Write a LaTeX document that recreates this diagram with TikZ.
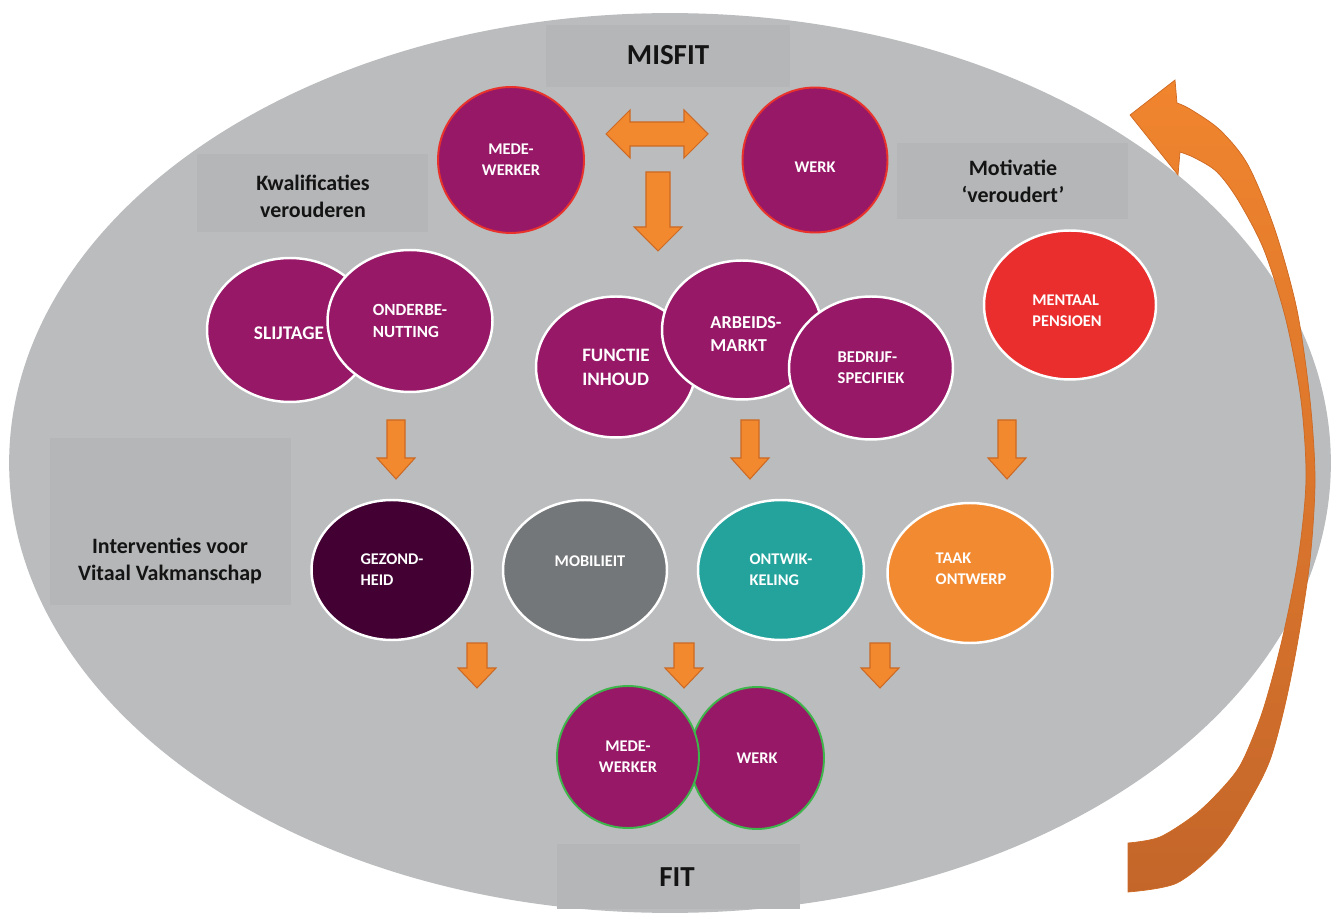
\documentclass[tikz,border=0pt]{standalone}
\usepackage{fontspec}
\setmainfont{Carlito}
\usetikzlibrary{shapes.geometric}
\definecolor{ellgray}{RGB}{186,188,189}
\definecolor{boxgray}{RGB}{180,182,183}
\definecolor{purp}{RGB}{150,24,102}
\definecolor{darkpurp}{RGB}{66,0,51}
\definecolor{midgray}{RGB}{116,119,121}
\definecolor{teal2}{RGB}{35,163,156}
\definecolor{orangec}{RGB}{242,138,50}
\definecolor{redc}{RGB}{234,45,45}
\definecolor{misred}{RGB}{232,50,43}
\definecolor{fitgreen}{RGB}{61,181,74}
\definecolor{arrfill}{RGB}{242,137,47}
\definecolor{arrline}{RGB}{205,105,35}
\definecolor{arrtop}{RGB}{241,133,46}
\definecolor{arrbot}{RGB}{196,102,42}
\definecolor{txt}{RGB}{20,20,20}
\newcommand{\myDownArrow}[6]{%
  \draw[barrow] ({#1-#4},#2) -- ({#1+#4},#2) -- ({#1+#4},{#3-#6}) -- ({#1+#5},{#3-#6})
    -- (#1,#3) -- ({#1-#5},{#3-#6}) -- ({#1-#4},{#3-#6}) -- cycle;}
\tikzset{
  blob/.style={ellipse, inner sep=0pt, text=white, align=left,
    font=\bfseries\fontsize{9.3}{12}\selectfont, draw=white, line width=1.4pt},
  ctext/.style={inner sep=0pt, text=white, align=left,
    font=\bfseries\fontsize{9.3}{12}\selectfont},
  lbox/.style={rectangle, fill=boxgray, inner sep=0pt},
  ltext/.style={font=\bfseries\fontsize{12.5}{15.3}\selectfont, text=txt, align=center},
  btext/.style={font=\bfseries\fontsize{16.5}{18}\selectfont, text=txt},
  barrow/.style={fill=arrfill, draw=arrline, line width=0.6pt, line join=miter},
}
\begin{document}
\begin{tikzpicture}[x=0.02cm, y=-0.02cm]
\useasboundingbox (0,0) rectangle (1333,915);
\begin{scope}
\clip (0,0) rectangle (1333,915);
\fill[ellgray] (670,463) ellipse [x radius=13.22cm, y radius=9cm];
\end{scope}

% grey label boxes
\node[lbox, minimum width=4.88cm, minimum height=1.24cm] (misfitbox) at (668,56) {};
\node[btext] (misfit) at (668,55) {MISFIT};
\node[lbox, minimum width=4.62cm, minimum height=1.56cm] (kwalbox) at (312.5,193) {};
\node[ltext] (kwal) at (313,196) {Kwalificaties\\verouderen};
\node[lbox, minimum width=4.62cm, minimum height=1.52cm] (motbox) at (1012.5,181) {};
\node[ltext] (mot) at (1013,181) {Motivatie\\‘veroudert’};
\node[lbox, minimum width=4.82cm, minimum height=3.34cm] (intbox) at (170.5,521.5) {};
\node[ltext] (int) at (170,561) {Interventies voor\\Vitaal Vakmanschap};
\node[lbox, minimum width=4.86cm, minimum height=1.3cm] (fitbox) at (678.5,876.5) {};
\node[btext] (fit) at (677,877) {FIT};

% top circles (misfit)
\node[blob, fill=purp, draw=misred, line width=1.1pt, align=center,
  minimum width=2.92cm, minimum height=2.92cm] (mw1) at (511,160) {MEDE-\\WERKER};
\node[blob, fill=purp, draw=misred, line width=1.1pt,
  minimum width=2.9cm, minimum height=2.9cm] (w1) at (815,160) {};
\node[ctext] (w1t) at (815,167) {WERK};

% double arrow and down arrow
\draw[barrow] (606,134) -- (630,110) -- (630,122) -- (684,122) -- (684,110) -- (708,134)
  -- (684,158) -- (684,146) -- (630,146) -- (630,158) -- cycle;
\myDownArrow{658}{172}{251}{12}{24}{24}

% second row
\node[blob, fill=purp, minimum width=3.32cm, minimum height=2.88cm] (slij) at (290,330) {};
\node[ctext, font=\bfseries\fontsize{11}{13}\selectfont] (slijt) at (289,333) {SLIJTAGE};
\node[blob, fill=purp, font=\bfseries\fontsize{9.7}{12.5}\selectfont,
  minimum width=3.3cm, minimum height=2.84cm] (onder) at (410,321) {ONDERBE-\\NUTTING};
\node[blob, fill=purp, font=\bfseries\fontsize{10.8}{13.6}\selectfont,
  minimum width=3.2cm, minimum height=2.82cm] (func) at (616,367) {FUNCTIE\\INHOUD};
\node[blob, fill=purp, minimum width=3.2cm, minimum height=2.78cm] (arb) at (742,330) {};
\node[ctext, font=\bfseries\fontsize{10.4}{13.6}\selectfont] (arbt) at (746,334) {ARBEIDS-\\MARKT};
\node[blob, fill=purp, font=\bfseries\fontsize{9.4}{12}\selectfont,
  minimum width=3.28cm, minimum height=2.86cm] (bed) at (871,368) {BEDRIJF-\\SPECIFIEK};
\node[blob, fill=redc, minimum width=3.44cm, minimum height=2.98cm] (ment) at (1070,305) {};
\node[ctext] (mentt) at (1067,311) {MENTAAL\\PENSIOEN};

% arrows row 2 -> row 3
\myDownArrow{396}{420}{479}{9}{19}{21}
\myDownArrow{750}{420}{479}{9}{19}{21}
\myDownArrow{1007}{420}{479}{9}{19}{21}

% third row (interventions)
\node[blob, fill=darkpurp, minimum width=3.22cm, minimum height=2.8cm] (gez) at (392,570) {GEZOND-\\HEID};
\node[blob, fill=midgray, minimum width=3.28cm, minimum height=2.8cm] (mob) at (585,570) {};
\node[ctext] (mobt) at (590,561) {MOBILIEIT};
\node[blob, fill=teal2, minimum width=3.32cm, minimum height=2.8cm] (ontw) at (781,570) {ONTWIK-\\KELING};
\node[blob, fill=orangec, minimum width=3.3cm, minimum height=2.8cm] (taak) at (970,573) {};
\node[ctext] (taakt) at (971,569) {TAAK\\ONTWERP};

% arrows row 3 -> fit
\myDownArrow{477}{643}{688}{10}{19}{20}
\myDownArrow{684}{643}{688}{10}{19}{20}
\myDownArrow{880}{643}{688}{10}{19}{20}

% bottom circles (fit)
\node[blob, fill=purp, draw=fitgreen, line width=1.1pt,
  minimum width=2.68cm, minimum height=2.84cm] (w2) at (757,758) {WERK};
\node[blob, fill=purp, draw=fitgreen, line width=1.1pt, align=center,
  minimum width=2.84cm, minimum height=2.84cm] (mw2) at (628,757) {MEDE-\\WERKER};

% big curved return arrow
\shade[top color=arrtop, bottom color=arrbot, draw=arrline, line width=0.4pt]
  (1130,115) -- (1175,80) -- (1177,103)
  -- plot[smooth] coordinates {(1177,103) (1190,109) (1220,130) (1248,165) (1275,230)
     (1297,310) (1310,400) (1315,480) (1310,560) (1298,640) (1285,705) (1270,760)
     (1250,800) (1220,847) (1177,883) (1128,892)}
  -- (1128,843)
  -- plot[smooth] coordinates {(1128,843) (1160,837) (1197,813) (1227,783) (1243,760)
     (1263,710) (1282,640) (1298,560) (1306,480) (1301,400) (1286,320) (1264,250)
     (1238,200) (1217,172) (1195,158) (1180,152)}
  -- (1178,175) -- cycle;
\end{tikzpicture}
\end{document}
